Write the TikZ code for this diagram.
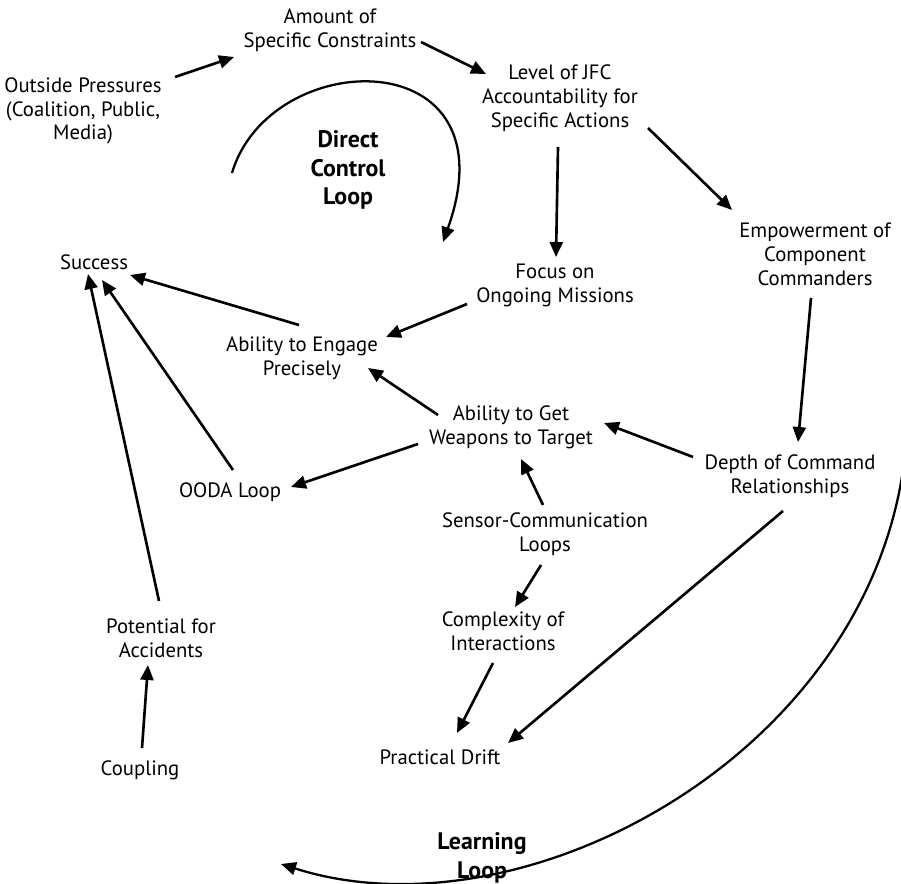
\documentclass[tikz,border=0pt]{standalone}
\usepackage{fontspec}
\setmainfont{PT Sans}
\usetikzlibrary{arrows.meta}

\begin{document}
\begin{tikzpicture}[x=0.02cm, y=-0.02cm,
  var/.style={align=center, inner sep=2pt, font=\fontsize{11.8}{13.6}\selectfont},
  loopname/.style={align=center, inner sep=2pt, font=\fontsize{13.6}{16.4}\selectfont\bfseries},
  link/.style={-{Triangle[length=0.3cm,width=0.26cm]}, line width=1.5pt},
  loopline/.style={-{Triangle[length=0.3cm,width=0.26cm]}, line width=1.3pt}]
  \useasboundingbox (0,0) rectangle (901,884);

  \node[var] (outside) at (83,111) {Outside Pressures\\(Coalition, Public,\\Media)};
  \node[var] (amount) at (330,30) {Amount of\\Specific Constraints};
  \node[var] (level) at (560,98) {Level of JFC\\Accountability for\\Specific Actions};
  \node[loopname] (direct) at (348,170) {Direct\\Control\\Loop};
  \node[var] (empower) at (815,254) {Empowerment of\\Component\\Commanders};
  \node[var] (success) at (94,262) {Success};
  \node[var] (focus) at (555,285) {Focus on\\Ongoing Missions};
  \node[var] (engage) at (302,358) {Ability to Engage\\Precisely};
  \node[var] (weapons) at (511,427) {Ability to Get\\Weapons to Target};
  \node[var] (depth) at (790,476) {Depth of Command\\Relationships};
  \node[var] (ooda) at (230,492) {OODA Loop};
  \node[var] (sensor) at (545,534) {Sensor-Communication\\Loops};
  \node[var] (complexity) at (503,631) {Complexity of\\Interactions};
  \node[var] (potential) at (161,638) {Potential for\\Accidents};
  \node[var] (drift) at (440,757) {Practical Drift};
  \node[var] (coupling) at (140,770) {Coupling};
  \node[loopname] (learning) at (482,858) {Learning\\Loop};

  \draw[link] ([shift={(92,-34)}]outside.center) -- ([shift={(-96,27)}]amount.center);
  \draw[link] ([shift={(91,12)}]amount.center) -- ([shift={(-74,-24)}]level.center);
  \draw[link] ([shift={(-2,49)}]level.center) -- ([shift={(1,-28)}]focus.center);
  \draw[link] ([shift={(88,30)}]level.center) -- ([shift={(-83,-44)}]empower.center);
  \draw[link] ([shift={(-4,44)}]empower.center) -- ([shift={(8,-34)}]depth.center);
  \draw[link] ([shift={(-88,19)}]focus.center) -- ([shift={(84,-21)}]engage.center);
  \draw[link] ([shift={(-3,-33)}]engage.center) -- ([shift={(36,13)}]success.center);
  \draw[link] ([shift={(3,-22)}]ooda.center) -- ([shift={(8,18)}]success.center);
  \draw[link] ([shift={(-2,-37)}]potential.center) -- ([shift={(-6,12)}]success.center);
  \draw[link] ([shift={(-73,-12)}]weapons.center) -- ([shift={(66,10)}]engage.center);
  \draw[link] ([shift={(-93,17)}]weapons.center) -- ([shift={(61,-5)}]ooda.center);
  \draw[link] ([shift={(-97,-19)}]depth.center) -- ([shift={(93,-4)}]weapons.center);
  \draw[link] ([shift={(-2,-29)}]sensor.center) -- ([shift={(10,32)}]weapons.center);
  \draw[link] ([shift={(-4,31)}]sensor.center) -- ([shift={(12,-24)}]complexity.center);
  \draw[link] ([shift={(-10,32)}]complexity.center) -- ([shift={(17,-24)}]drift.center);
  \draw[link] ([shift={(-7,35)}]depth.center) -- ([shift={(68,-14)}]drift.center);
  \draw[link] ([shift={(2,-22)}]coupling.center) -- ([shift={(-13,27)}]potential.center);

  \coordinate (dcl start) at (232,173);
  \coordinate (dcl end) at (443,242);
  \draw[loopline] (dcl start) .. controls (270,45) and (515,40) .. (dcl end);
  \coordinate (ll start) at (903,470);
  \coordinate (ll end) at (281,864);
  \draw[loopline] (ll start) .. controls (860,760) and (520,940) .. (ll end);
\end{tikzpicture}
\end{document}
